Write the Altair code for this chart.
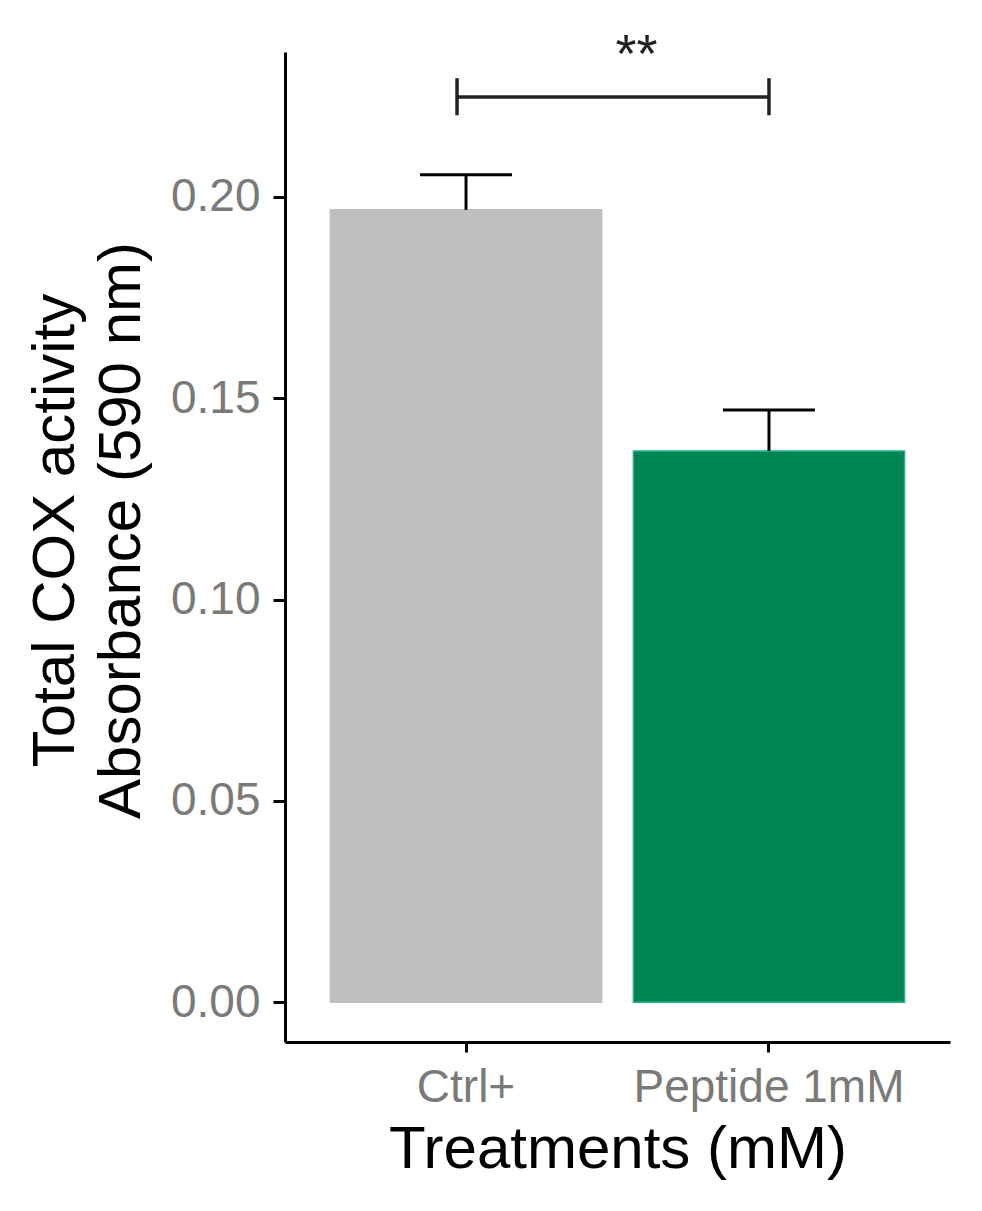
import altair as alt
import pandas as pd

# ---- data ----
categories = ["Ctrl+", "Peptide 1mM"]
means = [0.1968, 0.1369]
upper = [0.2055, 0.1471]          # mean + error
bar_colors = ["#bfbfbf", "#008451"]
bar_strokes = ["#bfbfbf", "#21b58c"]

bracket_from = "Ctrl+"
bracket_to = "Peptide 1mM"
bracket_y = 0.2248
bracket_lo = 0.2203
bracket_hi = 0.2295
signif_label = "**"
signif_y = 0.2310

y_ticks = [0.0, 0.05, 0.10, 0.15, 0.20]
y_domain = [-0.0099, 0.2360]

df = pd.DataFrame({
    "treatment": categories,
    "mean": means,
    "upper": upper,
    "base": [0.0] * len(categories),
})
df_br = pd.DataFrame({"a": [bracket_from], "b": [bracket_to], "y": [bracket_y]})
df_brt_left = pd.DataFrame({"pos": [bracket_from], "lo": [bracket_lo], "hi": [bracket_hi]})
df_brt_right = pd.DataFrame({"pos": [bracket_to], "lo": [bracket_lo], "hi": [bracket_hi]})
df_txt = pd.DataFrame({"pos": [bracket_from], "y": [signif_y], "label": [signif_label]})

FONT = "Liberation Sans"
LABEL_GRAY = "#7a7a7a"
BRACKET = "#222222"

xscale = alt.Scale(domain=categories, paddingInner=0.105, paddingOuter=0.15)
yscale = alt.Scale(domain=y_domain, nice=False, zero=False)

x_enc = alt.X("treatment:N", sort=categories, scale=xscale,
              axis=alt.Axis(title="Treatments (mM)", labelAngle=0, tickSize=10,
                            labelLimit=0, labelPadding=13, titlePadding=10))
y_enc = alt.Y("mean:Q", scale=yscale,
              axis=alt.Axis(title=["Total COX activity", "Absorbance (590 nm)"],
                            values=y_ticks, format=".2f", tickSize=12,
                            labelPadding=13, titlePadding=18, titleLineHeight=66,
                            titleY=478))

bars = alt.Chart(df).mark_bar(strokeWidth=1.5).encode(
    x=x_enc,
    y=y_enc,
    y2="base:Q",
    color=alt.Color("treatment:N", scale=alt.Scale(domain=categories, range=bar_colors), legend=None),
    stroke=alt.Stroke("treatment:N", scale=alt.Scale(domain=categories, range=bar_strokes), legend=None),
)

err = alt.Chart(df).mark_rule(color="black", strokeWidth=3).encode(
    x=alt.X("treatment:N", sort=categories, scale=xscale),
    y=alt.Y("mean:Q", scale=yscale),
    y2="upper:Q",
)

caps = alt.Chart(df).mark_tick(color="black", thickness=3, size=92, orient="horizontal",
                               opacity=1).encode(
    x=alt.X("treatment:N", sort=categories, scale=xscale),
    y=alt.Y("upper:Q", scale=yscale),
)

br = alt.Chart(df_br).mark_rule(color=BRACKET, strokeWidth=3.5, xOffset=-9).encode(
    x=alt.X("a:N", scale=xscale),
    x2="b:N",
    y=alt.Y("y:Q", scale=yscale),
)

brt_l = alt.Chart(df_brt_left).mark_rule(color=BRACKET, strokeWidth=3.5, xOffset=-9).encode(
    x=alt.X("pos:N", scale=xscale),
    y=alt.Y("lo:Q", scale=yscale),
    y2="hi:Q",
)
brt_r = alt.Chart(df_brt_right).mark_rule(color=BRACKET, strokeWidth=3.5).encode(
    x=alt.X("pos:N", scale=xscale),
    y=alt.Y("lo:Q", scale=yscale),
    y2="hi:Q",
)

txt = alt.Chart(df_txt).mark_text(fontSize=54, font=FONT, color=BRACKET,
                                  baseline="alphabetic", align="center", dx=35).encode(
    x=alt.X("pos:N", scale=xscale, bandPosition=1),
    y=alt.Y("y:Q", scale=yscale),
    text="label:N",
)

chart = alt.layer(bars, err, caps, br, brt_l, brt_r, txt).properties(
    width=665,
    height=990,
    background="white",
    autosize=alt.AutoSizeParams(type="none"),
    padding={"left": 277, "top": 44, "right": 20, "bottom": 150},
).configure_view(stroke=None).configure_axis(
    grid=False,
    domainColor="black",
    domainWidth=3,
    tickColor="black",
    tickWidth=3,
    labelFont=FONT,
    labelFontSize=46,
    labelColor=LABEL_GRAY,
    titleFont=FONT,
    titleFontSize=60,
    titleFontWeight="normal",
    titleColor="black",
)

chart.save("out.html", embed_options={"renderer": "svg", "actions": False})
